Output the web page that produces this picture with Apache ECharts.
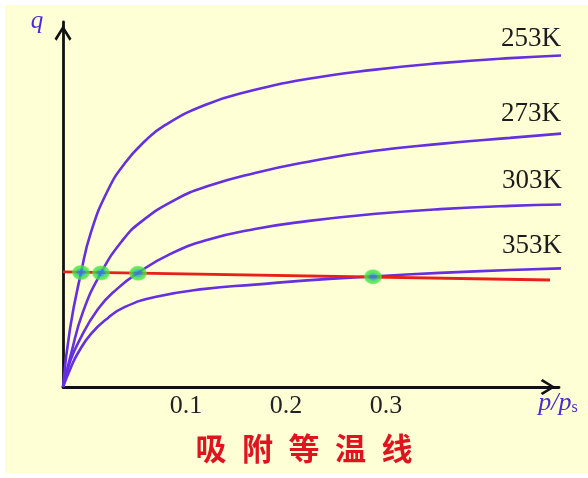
<!DOCTYPE html>
<html>
<head>
<meta charset="utf-8">
<script src="https://cdn.jsdelivr.net/npm/echarts@6/dist/echarts.min.js"></script>
<style>
  html, body { margin: 0; padding: 0; background: #ffffff; }
  #chart { width: 588px; height: 478px; }
</style>
</head>
<body>
<div id="chart"></div>
<script>
// ---- data ----
const seriesNames = ['253K', '273K', '303K', '353K'];

const p253 = [-0.023, -0.016, -0.005, 0.005, 0.022, 0.039, 0.059, 0.079, 0.119, 0.164, 0.221, 0.287, 0.354, 0.424, 0.491];
const q253 = [0, 16.4, 32.2, 43.7, 55.6, 63.2, 69.4, 73.9, 79.6, 83.5, 86.9, 89.5, 91.4, 92.8, 93.7];

const p273 = [-0.023, -0.015, -0.003, 0.015, 0.036, 0.055, 0.089, 0.122, 0.169, 0.221, 0.287, 0.354, 0.424, 0.497];
const q273 = [0, 9.3, 21.2, 32.2, 41.2, 46.6, 52.8, 56.7, 60.4, 63.5, 66.6, 68.6, 70.3, 72.0];

const p303 = [-0.023, -0.016, -0.008, 0.012, 0.032, 0.052, 0.084, 0.121, 0.169, 0.221, 0.287, 0.354, 0.424, 0.497];
const q303 = [0, 7.1, 12.4, 22.0, 27.9, 32.2, 37.5, 41.5, 44.6, 46.8, 48.8, 50.2, 51.1, 51.6];

const p353 = [-0.023, -0.015, -0.008, 0.005, 0.022, 0.039, 0.069, 0.119, 0.169, 0.221, 0.287, 0.354, 0.424, 0.489];
const q353 = [0, 5.6, 9.6, 15.0, 19.5, 22.6, 25.4, 27.7, 28.9, 30.1, 31.2, 32.2, 33.0, 33.6];

// isobar (constant q) line and the intersection points
const pIsobar = [-0.023, 0.464];
const qIsobar = [32.5, 30.2];
const pDots = [-0.005, 0.015, 0.052, 0.287];
const qDots = [32.3, 32.2, 32.1, 31.1];

const xTickValues = [0.1, 0.2, 0.3];
const titleText = '吸附等温线';

// ---- layout / style ----
const xMin = -0.023, xMax = 0.473, yMin = 0, yMax = 103;
const labelAnchors = { '253K': [0.445, 98.3], '273K': [0.445, 77.1], '303K': [0.446, 58.2], '353K': [0.446, 39.8] };
const curveColor = '#6430e0';
const chevron = 'path://M50 0 L100 80 L88 92 L50 28 L12 92 L0 80 Z';

const curveData = {
  '253K': p253.map((p, i) => [p, q253[i]]),
  '273K': p273.map((p, i) => [p, q273[i]]),
  '303K': p303.map((p, i) => [p, q303[i]]),
  '353K': p353.map((p, i) => [p, q353[i]])
};

const series = seriesNames.map(name => ({
  type: 'line',
  name: name,
  data: curveData[name],
  smooth: 0.5,
  clip: false,
  showSymbol: false,
  symbol: 'none',
  lineStyle: { color: curveColor, width: 2.6 },
  z: 3,
  markPoint: {
    symbol: 'rect',
    symbolSize: 1,
    itemStyle: { color: 'rgba(0,0,0,0)' },
    label: {
      show: true,
      position: 'inside',
      formatter: '{b}',
      fontFamily: 'Liberation Serif',
      fontSize: 27,
      color: '#1c1c1c'
    },
    data: [{ name: name, coord: labelAnchors[name] }]
  }
}));

series.push({
  type: 'line',
  name: 'isobar',
  data: pIsobar.map((p, i) => [p, qIsobar[i]]),
  clip: false,
  showSymbol: false,
  symbol: 'none',
  lineStyle: { color: '#e8201a', width: 2.8 },
  z: 4
});

series.push({
  type: 'scatter',
  name: 'points',
  data: pDots.map((p, i) => [p, qDots[i]]),
  symbol: 'circle',
  symbolSize: [18, 15],
  clip: false,
  itemStyle: {
    color: {
      type: 'radial', x: 0.5, y: 0.5, r: 0.5,
      colorStops: [
        { offset: 0, color: '#1a88e8' },
        { offset: 0.4, color: '#22a0d8' },
        { offset: 0.58, color: '#36dc3a' },
        { offset: 0.85, color: '#44e444' },
        { offset: 1, color: 'rgba(90,235,90,0.7)' }
      ]
    }
  },
  z: 5
});

const chart = echarts.init(document.getElementById('chart'), null, { renderer: 'canvas' });
chart.setOption({
  animation: false,
  backgroundColor: '#ffffff',
  grid: { left: 63, right: 29, top: 22, bottom: 91 },
  xAxis: {
    type: 'value',
    min: xMin, max: xMax,
    axisLine: {
      show: true, onZero: false,
      symbol: ['none', chevron],
      symbolSize: [16, 22],
      symbolOffset: [0, -11],
      lineStyle: { color: '#111111', width: 2.8 }
    },
    axisTick: { show: false },
    splitLine: { show: false },
    axisLabel: {
      show: true,
      customValues: xTickValues,
      margin: 6,
      fontFamily: 'Liberation Serif',
      fontSize: 26,
      color: '#222222',
      formatter: v => String(v)
    }
  },
  yAxis: {
    type: 'value',
    min: yMin, max: yMax,
    axisLine: {
      show: true, onZero: false,
      symbol: ['none', chevron],
      symbolSize: [17, 22],
      symbolOffset: [0, -11],
      lineStyle: { color: '#111111', width: 2.8 }
    },
    axisTick: { show: false },
    splitLine: { show: false },
    axisLabel: { show: false }
  },
  graphic: [
    {
      type: 'rect', silent: true, z: -100,
      shape: { x: 5, y: 5, width: 583, height: 468 },
      style: { fill: '#ffffd6' }
    },
    {
      type: 'text', x: 37, y: 21, z: 10,
      style: {
        text: 'q', align: 'center', verticalAlign: 'middle',
        font: 'italic 25px "Liberation Serif"', fill: '#4a2cd6'
      }
    },
    {
      type: 'text', x: 558, y: 403, z: 10,
      style: {
        text: '{i|p/p}{s|s}', align: 'center', verticalAlign: 'middle',
        rich: {
          i: { fontFamily: 'Liberation Serif', fontStyle: 'italic', fontSize: 26, fill: '#4a2cd6', color: '#4a2cd6' },
          s: { fontFamily: 'Liberation Serif', fontSize: 16, fill: '#4a2cd6', color: '#4a2cd6', padding: [10, 0, 0, 0] }
        }
      }
    },
    {
      type: 'text', x: 304, y: 448, z: 10,
      style: {
        text: titleText.split('').join('\u2002'),
        align: 'center', verticalAlign: 'middle',
        font: 'bold 31px "Noto Sans CJK SC"', fill: '#e0141e'
      }
    }
  ],
  series: series
});
</script>
</body>
</html>
